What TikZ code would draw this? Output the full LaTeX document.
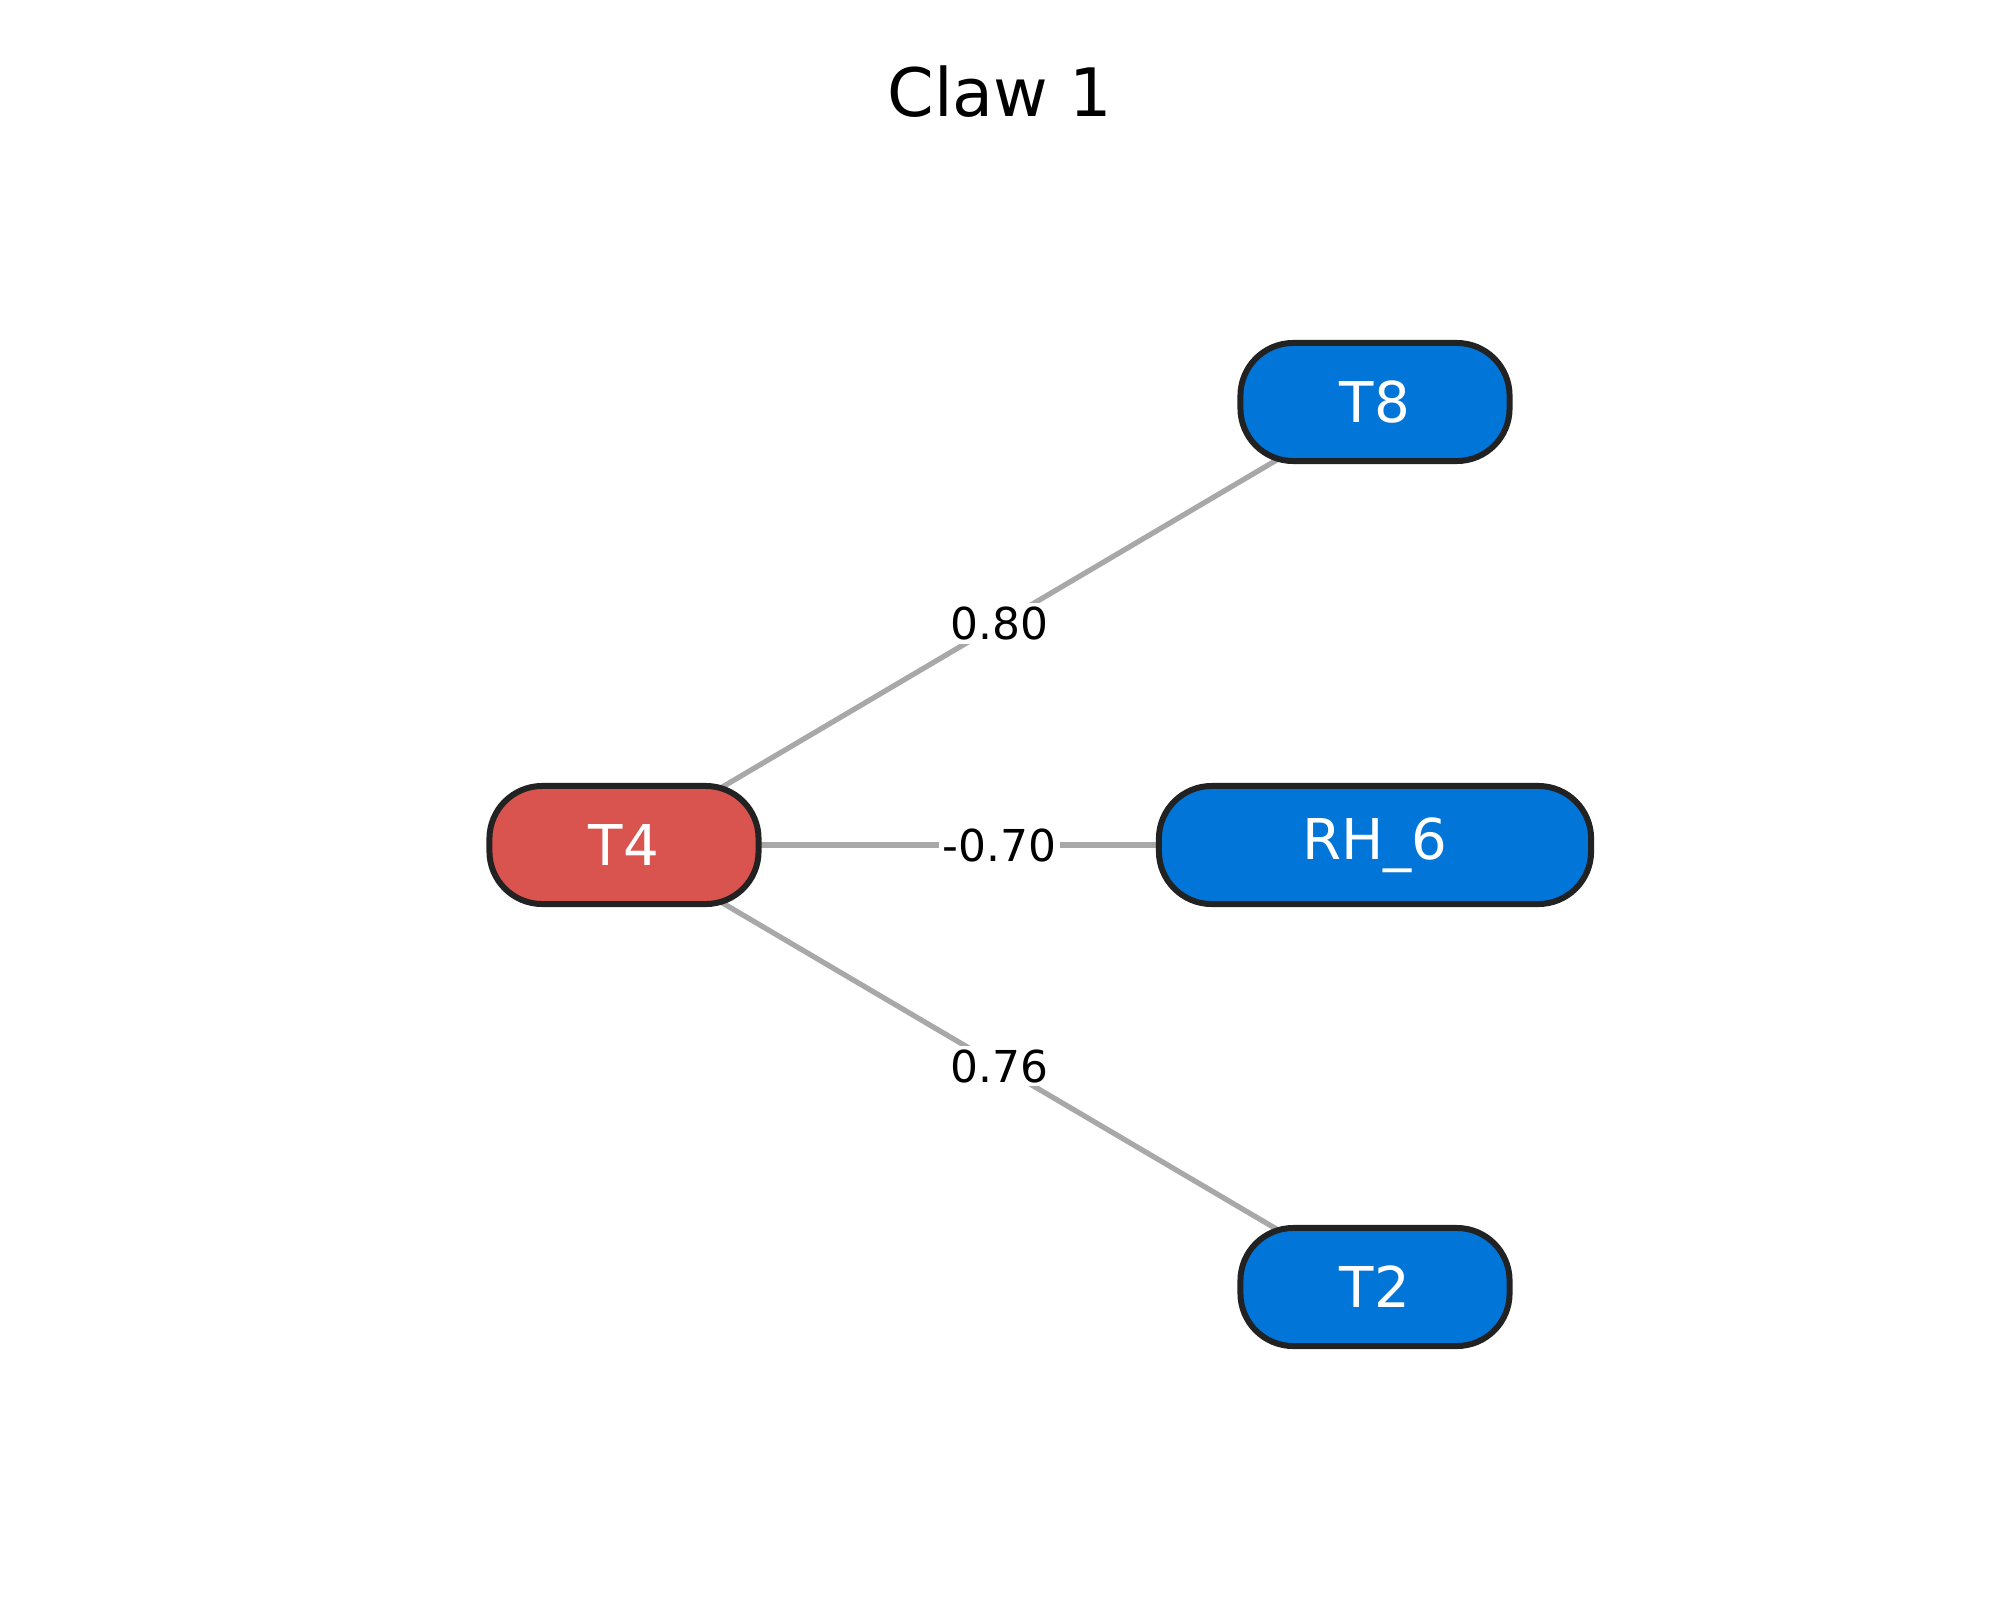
\documentclass[tikz,border=0pt]{standalone}
\usepackage{fontspec}
\setmainfont{DejaVu Sans}
\usetikzlibrary{backgrounds}
\definecolor{nodeblue}{HTML}{0275D8}
\definecolor{nodered}{HTML}{D9534F}
\definecolor{edgegray}{HTML}{A8A8A8}
\definecolor{border}{HTML}{222222}
\begin{document}
\begin{tikzpicture}[x=0.01cm,y=-0.01cm,
  box/.style={draw=border, line width=1.7pt, rounded corners=15pt, text=white,
    font=\fontsize{16}{19}\selectfont, minimum height=1.18cm, minimum width=2.69cm, inner sep=0pt},
  bluebox/.style={box, fill=nodeblue},
  redbox/.style={box, fill=nodered},
  edge/.style={draw=edgegray, line width=1.5pt},
  wlabel/.style={fill=white, inner sep=1pt, font=\fontsize{12.5}{15}\selectfont, text=black}]
\useasboundingbox (0,0) rectangle (2000,1600);
\node[font=\fontsize{19}{23}\selectfont] (title) at (1000,92) {Claw 1};
\node[redbox] (T4) at (624,845) {T4};
\node[bluebox] (T8) at (1375,402) {T8};
\node[bluebox, minimum width=4.32cm] (RH6) at (1375,845) {RH\_6};
\node[bluebox] (T2) at (1375,1287) {T2};
\begin{scope}[on background layer]
\draw[edge] (T4.center) -- node[wlabel] {0.80} (T8.center);
\draw[edge] (T4.center) -- node[wlabel] {-0.70} (RH6.center);
\draw[edge] (T4.center) -- node[wlabel] {0.76} (T2.center);
\end{scope}
\end{tikzpicture}
\end{document}
